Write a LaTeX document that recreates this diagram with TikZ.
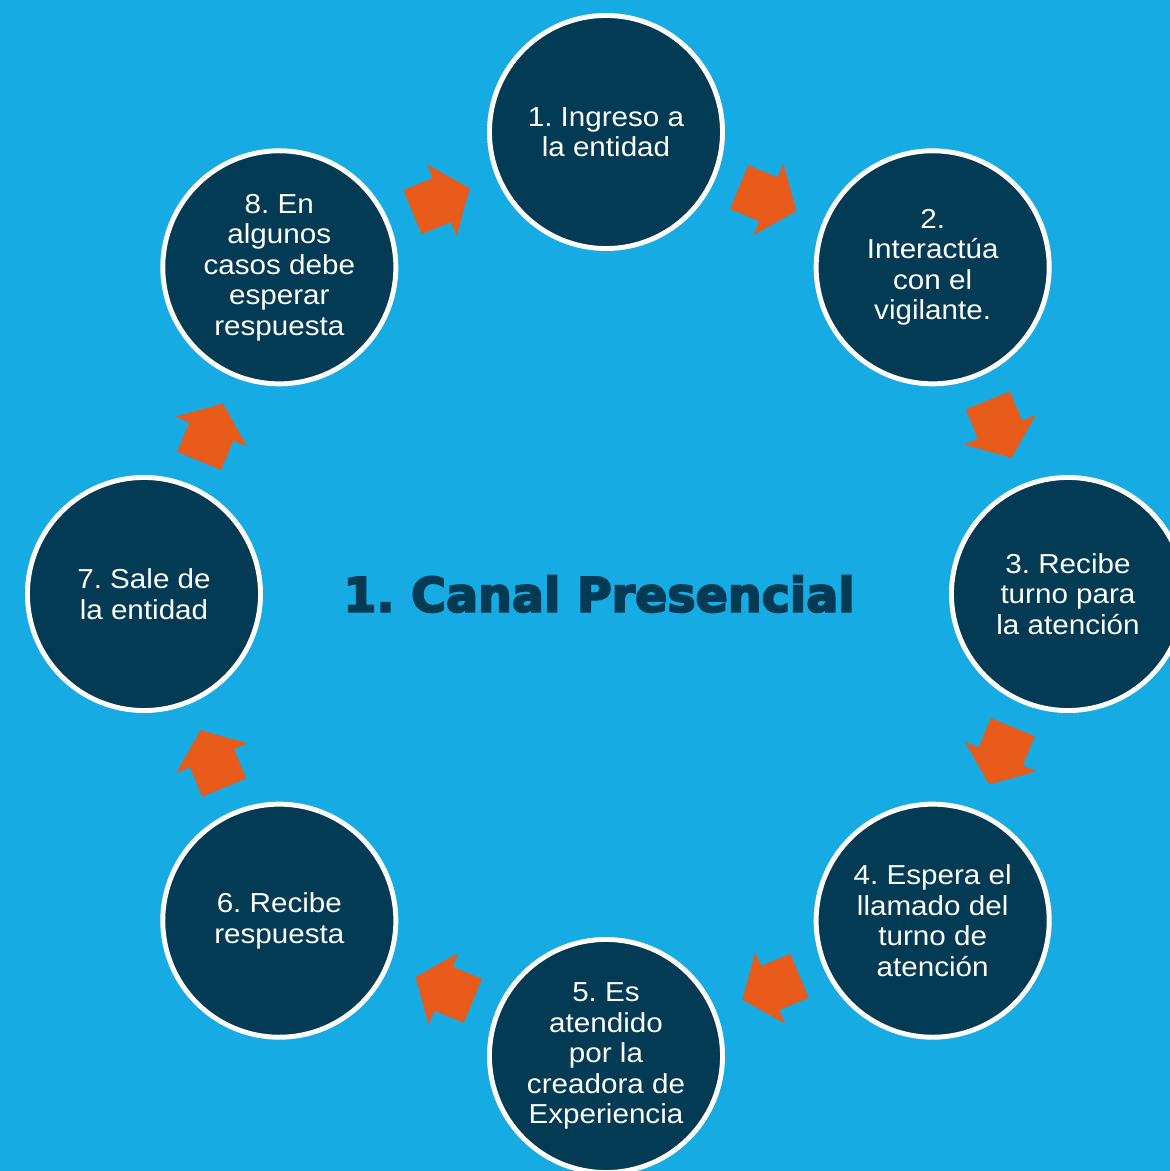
\documentclass[tikz,border=0pt]{standalone}
\usepackage{fontspec}
\setmainfont{Liberation Sans}[FakeStretch=1.08]
\newfontfamily\titlefont{DejaVu Sans Bold}[FakeBold=4]
\usetikzlibrary{shapes.arrows, calc}
\frenchspacing

\definecolor{bgblue}{RGB}{22,171,227}
\definecolor{stepnavy}{RGB}{3,59,85}
\definecolor{arroworange}{RGB}{233,91,27}

\begin{document}
\begin{tikzpicture}[x=0.025cm, y=0.025cm,
    stepcircle/.style={circle, fill=stepnavy, draw=white, line width=3.5pt,
      minimum size=5.825cm, inner sep=0pt, align=center, text=white,
      font=\fontsize{19.5}{21.7}\selectfont},
    blockarrow/.style={single arrow, fill=arroworange, draw=none,
      inner xsep=0pt, inner ysep=0.5875cm,
      minimum width=1.925cm, minimum height=1.55cm,
      single arrow head extend=0.375cm, single arrow tip angle=104}]
  \useasboundingbox (-606,-577) rectangle (564,594);
  \clip (-606,-577) rectangle (564,594);
  \fill[bgblue] (-606,-577) rectangle (564,594);

  % steps round the ring
  \foreach \i/\txt in {1/{1. Ingreso a\\la entidad},
                       2/{2.\\Interactúa\\con el\\vigilante.},
                       3/{3. Recibe\\turno para\\la atención},
                       4/{4. Espera el\\llamado del\\turno de\\atención},
                       5/{5. Es\\atendido\\por la\\creadora de\\Experiencia},
                       6/{6. Recibe\\respuesta},
                       7/{7. Sale de\\la entidad},
                       8/{8. En\\algunos\\casos debe\\esperar\\respuesta}}
    \node[stepcircle] (c\i) at ({90-45*(\i-1)}:462) {\txt};

  % arrows between steps
  \foreach \i [evaluate=\i as \j using {int(mod(\i,8)+1)}] in {1,...,8}
    \node[blockarrow, rotate={-22.5-45*(\i-1)}] (a\i) at ($(c\i)!0.469!(c\j)$) {};

  \node[font=\titlefont\fontsize{33.8}{40}\selectfont, text=stepnavy] (title) at (-7,0) {1. Canal Presencial};
\end{tikzpicture}
\end{document}
